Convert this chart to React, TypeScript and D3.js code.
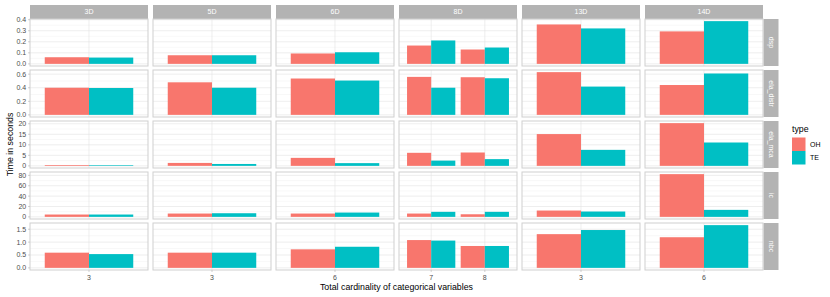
import React from "react";
import * as d3 from "d3";

// facet columns and the x categories inside each one
const columns = ["3D", "5D", "6D", "8D", "13D", "14D"];
const columnCategories = [["3"], ["3"], ["6"], ["7", "8"], ["3"], ["6"]];
const metrics = ["dsp", "ela_distr", "ela_mca", "ic", "nbc"];
const types = ["OH", "TE"];
const typeColors = ["#F8766D", "#00BFC4"];

// values in order: 3D/3, 5D/3, 6D/6, 8D/7, 8D/8, 13D/3, 14D/6
const dspOH = [0.06, 0.078, 0.094, 0.166, 0.13, 0.357, 0.294];
const dspTE = [0.057, 0.078, 0.105, 0.212, 0.148, 0.321, 0.387];
const elaDistrOH = [0.4, 0.48, 0.536, 0.56, 0.555, 0.63, 0.44];
const elaDistrTE = [0.396, 0.4, 0.506, 0.4, 0.54, 0.417, 0.61];
const elaMcaOH = [0.35, 1.4, 3.8, 6.2, 6.35, 15.1, 20.3];
const elaMcaTE = [0.3, 0.9, 1.3, 2.5, 3.2, 7.6, 11.1];
const icOH = [4.5, 6.4, 6.4, 6.4, 5, 12.2, 82.4];
const icTE = [4.5, 7, 8.3, 9.7, 9.7, 10.3, 13.5];
const nbcOH = [0.59, 0.59, 0.72, 1.08, 0.85, 1.31, 1.19];
const nbcTE = [0.535, 0.59, 0.82, 1.06, 0.85, 1.47, 1.66];

const seriesByMetric = [
  [dspOH, dspTE],
  [elaDistrOH, elaDistrTE],
  [elaMcaOH, elaMcaTE],
  [icOH, icTE],
  [nbcOH, nbcTE],
];

const yTicks = [
  [0, 0.1, 0.2, 0.3, 0.4],
  [0, 0.2, 0.4, 0.6],
  [0, 5, 10, 15, 20],
  [0, 20, 40, 60, 80],
  [0, 0.5, 1, 1.5],
];
const yTickFormats = [".1f", ".1f", "d", "d", ".1f"];

const width = 830;
const height = 297;
const panelLeft = 30;
const panelW = 118;
const colStep = 123;
const panelTop = 19;
const panelH = 47;
const rowStep = 51;
const stripH = 14;
const stripW = 15;
const font = "'Liberation Sans', Arial, sans-serif";

// flat index of each (column, category) pair
const flatIndex: number[][] = [];
let k = 0;
columnCategories.forEach((cats) => {
  flatIndex.push(cats.map(() => k++));
});

function Panel({ row, col }: { row: number; col: number }) {
  const x0 = panelLeft + col * colStep;
  const y0 = panelTop + row * rowStep;
  const cats = columnCategories[col];
  const series = seriesByMetric[row];
  const rowMax = d3.max(series.flat()) as number;

  const x = d3
    .scaleLinear()
    .domain([0.4, cats.length + 0.6])
    .range([x0, x0 + panelW]);
  const y = d3
    .scaleLinear()
    .domain([-0.05 * rowMax, 1.05 * rowMax])
    .range([y0 + panelH, y0]);

  const ticks = yTicks[row];
  const minor = ticks.slice(1).map((t, i) => (t + ticks[i]) / 2);

  return (
    <g>
      <rect x={x0} y={y0} width={panelW} height={panelH} fill="white" />
      {minor.map((t) => (
        <line key={"mi" + t} x1={x0} x2={x0 + panelW} y1={y(t)} y2={y(t)} stroke="#f1f1f1" strokeWidth={0.5} />
      ))}
      {ticks.map((t) => (
        <line key={"ma" + t} x1={x0} x2={x0 + panelW} y1={y(t)} y2={y(t)} stroke="#e3e3e3" strokeWidth={0.6} />
      ))}
      {cats.map((c, i) => (
        <line key={"v" + c} x1={x(i + 1)} x2={x(i + 1)} y1={y0} y2={y0 + panelH} stroke="#e3e3e3" strokeWidth={0.6} />
      ))}
      {cats.map((c, i) => {
        const band = d3
          .scaleBand()
          .domain(types)
          .range([x(i + 1 - 0.45), x(i + 1 + 0.45)]);
        return types.map((t, ti) => {
          const v = series[ti][flatIndex[col][i]];
          return (
            <rect
              key={c + t}
              x={band(t)}
              y={y(v)}
              width={band.bandwidth()}
              height={y(0) - y(v)}
              fill={typeColors[ti]}
            />
          );
        });
      })}
      <rect x={x0} y={y0} width={panelW} height={panelH} fill="none" stroke="#cfcfcf" strokeWidth={1} />
      {col === 0 &&
        ticks.map((t) => (
          <g key={"yt" + t}>
            <line x1={x0 - 2} x2={x0} y1={y(t)} y2={y(t)} stroke="#b3b3b3" strokeWidth={0.6} />
            <text x={x0 - 3.8} y={y(t)} dy="0.35em" textAnchor="end" fontSize={7} fill="#4d4d4d" fontFamily={font}>
              {d3.format(yTickFormats[row])(t)}
            </text>
          </g>
        ))}
      {row === metrics.length - 1 &&
        cats.map((c, i) => (
          <g key={"xt" + c}>
            <line x1={x(i + 1)} x2={x(i + 1)} y1={y0 + panelH} y2={y0 + panelH + 2} stroke="#b3b3b3" strokeWidth={0.6} />
            <text x={x(i + 1)} y={y0 + panelH + 9.5} textAnchor="middle" fontSize={7} fill="#4d4d4d" fontFamily={font}>
              {c}
            </text>
          </g>
        ))}
    </g>
  );
}

export default function App() {
  const rightX = panelLeft + 5 * colStep + panelW;
  const plotBottom = panelTop + 4 * rowStep + panelH;
  return (
    <svg
      width={width}
      height={height}
      style={{ position: "absolute", left: 0, top: 0, display: "block", background: "white" }}
    >
      {columns.map((c, ci) => (
        <g key={"s" + c}>
          <rect x={panelLeft + ci * colStep} y={panelTop - stripH} width={panelW} height={stripH} fill="#b3b3b3" />
          <text
            x={panelLeft + ci * colStep + panelW / 2}
            y={panelTop - stripH / 2}
            dy="0.35em"
            textAnchor="middle"
            fontSize={7}
            fill="white"
            fontFamily={font}
          >
            {c}
          </text>
        </g>
      ))}
      {metrics.map((m, ri) => (
        <g key={"r" + m}>
          <rect x={rightX + 0.5} y={panelTop + ri * rowStep} width={stripW} height={panelH} fill="#b3b3b3" />
          <text
            transform={`translate(${rightX + 0.5 + stripW / 2},${panelTop + ri * rowStep + panelH / 2}) rotate(90)`}
            dy="0.35em"
            textAnchor="middle"
            fontSize={7}
            fill="white"
            fontFamily={font}
          >
            {m}
          </text>
          {columns.map((c, ci) => (
            <Panel key={m + c} row={ri} col={ci} />
          ))}
        </g>
      ))}
      <text
        transform={`translate(12.5,${(panelTop + plotBottom) / 2}) rotate(-90)`}
        textAnchor="middle"
        fontSize={8.8}
        fill="black"
        fontFamily={font}
      >
        Time in seconds
      </text>
      <text
        x={(panelLeft + rightX) / 2}
        y={290}
        textAnchor="middle"
        fontSize={8.8}
        fill="black"
        fontFamily={font}
      >
        Total cardinality of categorical variables
      </text>
      <text x={792} y={132} fontSize={8.8} fill="black" fontFamily={font}>
        type
      </text>
      {types.map((t, ti) => (
        <g key={"l" + t}>
          <rect x={792} y={137.5 + ti * 13.5} width={13.5} height={13.5} fill={typeColors[ti]} />
          <text x={810} y={137.5 + ti * 13.5 + 6.75} dy="0.35em" fontSize={7} fill="black" fontFamily={font}>
            {t}
          </text>
        </g>
      ))}
    </svg>
  );
}
